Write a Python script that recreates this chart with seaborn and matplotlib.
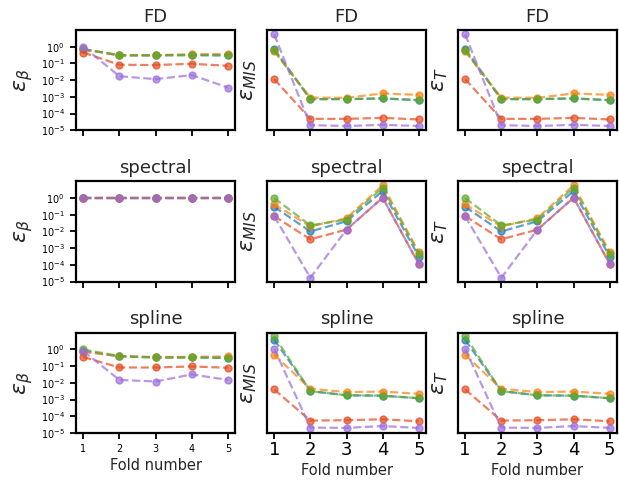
import matplotlib
matplotlib.use("Agg")
import matplotlib.pyplot as plt
import pandas as pd
import seaborn as sns

folds = [1, 2, 3, 4, 5]
series = ["s1", "s2", "s3", "s4", "s5"]
colors = ["#1f77b4", "#ff7f0e", "#5aaa2a", "#e64a1e", "#9a6ddc"]
row_titles = ["FD", "spectral", "spline"]
col_ylabels = [r"$\epsilon_\beta$", r"$\epsilon_{MIS}$", r"$\epsilon_T$"]

fd_beta = [
    [0.72, 0.30, 0.30, 0.31, 0.30],
    [0.70, 0.31, 0.31, 0.36, 0.36],
    [0.73, 0.31, 0.31, 0.32, 0.31],
    [0.45, 0.083, 0.08, 0.095, 0.072],
    [1.0, 0.017, 0.0115, 0.02, 0.0036],
]
fd_mis = [
    [0.73, 7.3e-4, 7.3e-4, 8e-4, 6.3e-4],
    [0.52, 9e-4, 8.7e-4, 1.6e-3, 1.3e-3],
    [0.63, 7.3e-4, 7.3e-4, 8e-4, 6.3e-4],
    [0.0115, 4.8e-5, 4.8e-5, 5.5e-5, 4.4e-5],
    [5.5, 2e-5, 1.8e-5, 2.1e-5, 1.8e-5],
]
fd_t = [
    [0.73, 7.3e-4, 7.3e-4, 8e-4, 6.3e-4],
    [0.52, 9e-4, 8.7e-4, 1.6e-3, 1.3e-3],
    [0.63, 7.3e-4, 7.3e-4, 8e-4, 6.3e-4],
    [0.0115, 4.8e-5, 4.8e-5, 5.5e-5, 4.4e-5],
    [5.5, 2e-5, 1.8e-5, 2.1e-5, 1.8e-5],
]
spectral_beta = [
    [1.0, 1.0, 1.0, 1.0, 1.0],
    [1.0, 1.0, 1.0, 1.0, 1.0],
    [1.0, 1.0, 1.0, 1.0, 1.0],
    [1.0, 1.0, 1.0, 1.0, 1.0],
    [1.0, 1.0, 1.0, 1.0, 1.0],
]
spectral_mis = [
    [0.3, 0.01, 0.041, 2.6, 3.1e-4],
    [0.42, 0.02, 0.063, 5.8, 5.6e-4],
    [1.0, 0.023, 0.052, 4.2, 4.5e-4],
    [0.083, 0.0034, 0.013, 1.05, 1.1e-4],
    [0.083, 1.7e-5, 0.013, 1.05, 1.1e-4],
]
spectral_t = [
    [0.3, 0.01, 0.041, 2.6, 3.1e-4],
    [0.42, 0.02, 0.063, 5.8, 5.6e-4],
    [1.0, 0.023, 0.052, 4.2, 4.5e-4],
    [0.083, 0.0034, 0.013, 1.05, 1.1e-4],
    [0.083, 1.7e-5, 0.013, 1.05, 1.1e-4],
]
spline_beta = [
    [0.8, 0.38, 0.33, 0.33, 0.31],
    [0.7, 0.40, 0.35, 0.36, 0.38],
    [1.0, 0.40, 0.33, 0.33, 0.32],
    [0.35, 0.083, 0.083, 0.096, 0.08],
    [0.8, 0.015, 0.012, 0.032, 0.015],
]
spline_mis = [
    [3.8, 3.2e-3, 1.8e-3, 1.7e-3, 1.2e-3],
    [0.48, 4.4e-3, 2.8e-3, 3e-3, 2.2e-3],
    [6.3, 3.2e-3, 1.8e-3, 1.7e-3, 1.2e-3],
    [4e-3, 5.5e-5, 5.8e-5, 6.6e-5, 5e-5],
    [1.1, 2.1e-5, 2e-5, 2.6e-5, 2e-5],
]
spline_t = [
    [3.8, 3.2e-3, 1.8e-3, 1.7e-3, 1.2e-3],
    [0.48, 4.4e-3, 2.8e-3, 3e-3, 2.2e-3],
    [6.3, 3.2e-3, 1.8e-3, 1.7e-3, 1.2e-3],
    [4e-3, 5.5e-5, 5.8e-5, 6.6e-5, 5e-5],
    [1.1, 2.1e-5, 2e-5, 2.6e-5, 2e-5],
]

panels = [
    [fd_beta, fd_mis, fd_t],
    [spectral_beta, spectral_mis, spectral_t],
    [spline_beta, spline_mis, spline_t],
]

sns.set_style("ticks")
plt.rcParams.update({
    "axes.linewidth": 1.6,
    "xtick.major.width": 1.3,
    "ytick.major.width": 1.3,
    "xtick.major.size": 4.5,
    "ytick.major.size": 4.5,
    "axes.edgecolor": "black",
    "xtick.color": "black",
    "ytick.color": "black",
})

fig, axes = plt.subplots(3, 3, figsize=(6.19, 4.8), dpi=100)
fig.subplots_adjust(left=0.1228, right=0.9968, top=0.9375, bottom=0.098,
                    wspace=0.2, hspace=0.51)

for r in range(3):
    for c in range(3):
        ax = axes[r, c]
        data = panels[r][c]
        rows = []
        for s, vals in zip(series, data):
            for f, v in zip(folds, vals):
                rows.append({"fold": f, "value": v, "series": s})
        df = pd.DataFrame(rows)
        sns.lineplot(data=df, x="fold", y="value", hue="series",
                     hue_order=series, palette=colors, marker="o",
                     linestyle="--", alpha=0.7, markersize=5,
                     linewidth=1.6, errorbar=None, legend=False, ax=ax)
        for line in ax.lines:
            line.set_markeredgecolor(line.get_color())
            line.set_markeredgewidth(1.0)
        ax.set_yscale("log")
        ax.set_ylim(1e-5, 10)
        ax.set_xticks(folds)
        ax.set_title(row_titles[r], fontsize=13)
        if c == 0:
            ax.set_yticks([1e-5, 1e-4, 1e-3, 1e-2, 1e-1, 1e0])
            ax.minorticks_off()
            ax.tick_params(axis="both", labelsize=7)
            ax.set_ylabel(col_ylabels[c], fontsize=16, labelpad=4)
        else:
            ax.set_yticks([])
            ax.minorticks_off()
            ax.tick_params(axis="x", labelsize=13, pad=1.5)
            ax.set_ylabel(col_ylabels[c], fontsize=16, labelpad=6)
        if r == 2:
            ax.set_xlabel("Fold number", fontsize=10.5, labelpad=2.5)
        else:
            ax.set_xlabel("")
            ax.set_xticklabels([])

fig.savefig("out.png", dpi=100)
